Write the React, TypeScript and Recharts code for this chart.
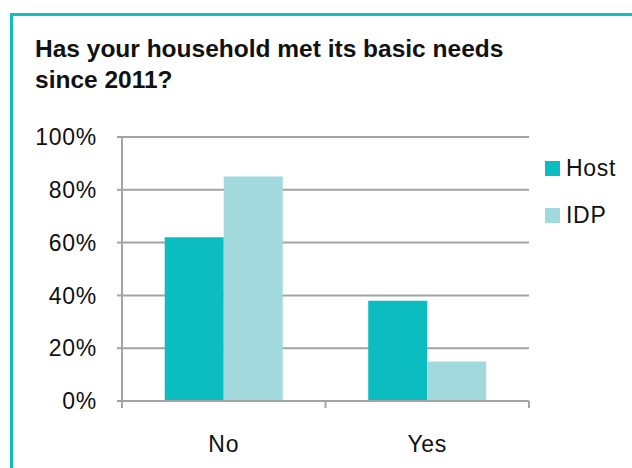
import React from 'react'
import { BarChart, Bar, XAxis, YAxis, CartesianGrid, Legend } from "recharts";

const categories = ["No", "Yes"];
const hostValues = [62, 38];
const idpValues = [85, 15];
const yTicks = [0, 20, 40, 60, 80, 100];

const HOST = "#0bbdc1";
const IDP = "#a1d9dd";
const GRID = "#a3a3a3";
const FONT = "'Liberation Sans', Arial, Helvetica, sans-serif";

const data = categories.map((name, i) => ({ name, Host: hostValues[i], IDP: idpValues[i] }));

const CategoryTick = (props: any) => {
    const { x, y, payload, index, visibleTicksCount } = props;
    const half = payload && payload.offset ? payload.offset : 0;
    const top = y - 8;
    return (
        <g>
            <line x1={x - half} x2={x - half} y1={top} y2={top + 7} stroke={GRID} strokeWidth={2} />
            {index === visibleTicksCount - 1 && (
                <line x1={x + half} x2={x + half} y1={top} y2={top + 7} stroke={GRID} strokeWidth={2} />
            )}
            <text x={x} y={top + 51} textAnchor="middle" fontSize={23} letterSpacing={0.7} fill="#111" fontFamily={FONT}>
                {payload.value}
            </text>
        </g>
    );
};

const LegendBox = (props: any) => {
    const { payload } = props;
    return (
        <div style={{ fontFamily: FONT, fontSize: 23, letterSpacing: 0.7, color: "#111" }}>
            {payload.map((p: any) => (
                <div key={p.value} style={{ display: "flex", alignItems: "center", height: 47 }}>
                    <span style={{ display: "inline-block", width: 15, height: 15, background: p.color, marginRight: 6 }} />
                    <span>{p.value}</span>
                </div>
            ))}
        </div>
    );
};

const App = () => {
    return (
        <div style={{ position: "absolute", left: 0, top: 0, width: 632, height: 468, overflow: "hidden", background: "#fff" }}>
            <div style={{ position: "absolute", left: 10, top: 13, width: 660, height: 500, border: "3px solid #0cbfc3", boxSizing: "border-box" }} />
            <div style={{ position: "absolute", left: 35, top: 33, fontFamily: FONT, fontWeight: "bold", fontSize: 24.5, lineHeight: "31px", color: "#111", whiteSpace: "nowrap" }}>
                Has your household met its basic needs<br />since 2011?
            </div>
            <div style={{ position: "absolute", left: 0, top: 0 }}>
                <BarChart width={632} height={468} data={data} margin={{ top: 137, right: 13, bottom: 7, left: 0 }}
                    barCategoryGap="21%" barGap={0}>
                    <CartesianGrid vertical={false} stroke={GRID} strokeWidth={2} />
                    <XAxis dataKey="name" height={60} axisLine={{ stroke: GRID, strokeWidth: 2 }} tickLine={false}
                        tick={<CategoryTick />} interval={0} />
                    <YAxis width={122} domain={[0, 100]} ticks={yTicks} tickFormatter={(v) => `${v}%`}
                        axisLine={{ stroke: GRID, strokeWidth: 2 }} tickLine={{ stroke: GRID, strokeWidth: 2 }}
                        tickSize={5} tickMargin={20}
                        tick={{ fontSize: 23, letterSpacing: 0.7, fill: "#111", fontFamily: FONT }} />
                    <Legend verticalAlign="top" align="right" layout="vertical" content={<LegendBox />}
                        wrapperStyle={{ left: 545, top: 145, width: 90 }} />
                    <Bar dataKey="Host" fill={HOST} isAnimationActive={false} />
                    <Bar dataKey="IDP" fill={IDP} isAnimationActive={false} />
                </BarChart>
            </div>
        </div>
    );
};

export default App
